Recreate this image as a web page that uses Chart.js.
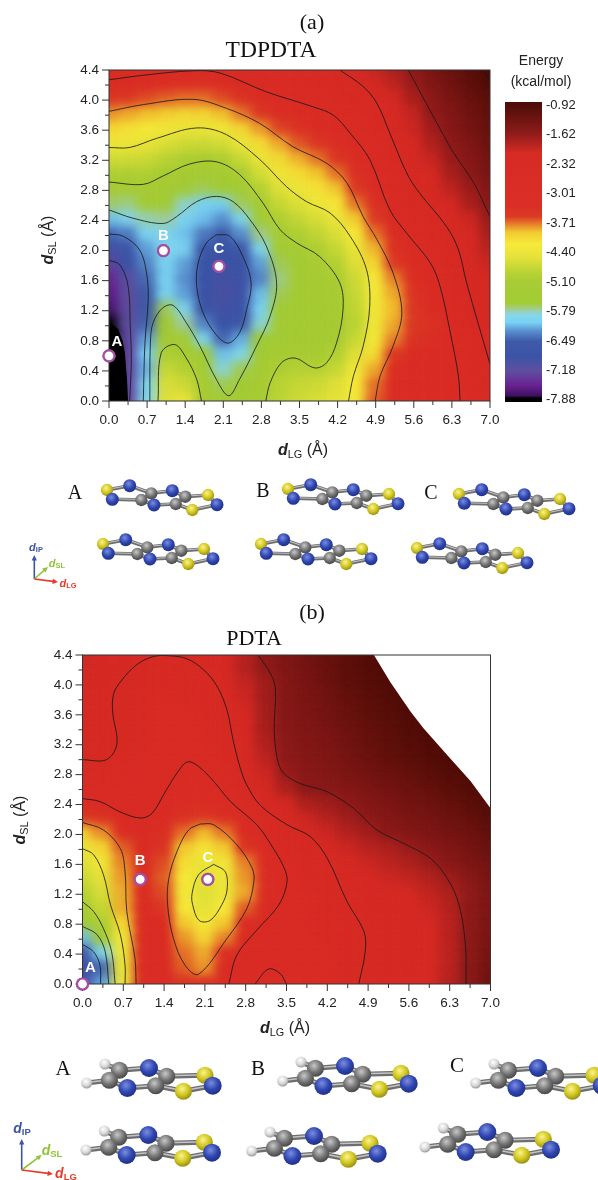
<!DOCTYPE html>
<html><head><meta charset="utf-8">
<script src="https://cdn.jsdelivr.net/npm/chart.js@4"></script>
<style>
html,body{margin:0;padding:0;background:#fff;width:598px;height:1180px;overflow:hidden}
canvas{position:absolute;display:block}
.t{position:absolute;transform:translate(-50%,-50%);white-space:nowrap;line-height:1}
.s{font-family:"Liberation Serif",serif;color:#111}
.h{font-family:"Liberation Sans",sans-serif;color:#222}
.r{transform:translate(-50%,-50%) rotate(-90deg)}
sub{font-size:.68em;vertical-align:-.25em;line-height:0}
.d{font-style:italic;font-weight:bold}
svg{position:absolute;left:0;top:0}
</style></head><body>
<canvas id="chartA" width="510" height="420" style="left:0;top:60px"></canvas>
<canvas id="chartB" width="510" height="420" style="left:0;top:645px"></canvas>
<canvas id="chartBar" width="103" height="320" style="left:495px;top:92px"></canvas>
<svg id="art" width="598" height="1180"></svg>
<div id="labels"></div>
<script>
const dLG=[0,0.35,0.7,1.05,1.4,1.75,2.1,2.45,2.8,3.15,3.5,3.85,4.2,4.55,4.9,5.25,5.6,5.95,6.3,6.65,7];
const dSL=[4.4,4.2,4.0,3.8,3.6,3.4,3.2,3.0,2.8,2.6,2.4,2.2,2.0,1.8,1.6,1.4,1.2,1.0,0.8,0.6,0.4,0.2,0];
const xMajorTicks=[0,0.7,1.4,2.1,2.8,3.5,4.2,4.9,5.6,6.3,7];
const yMajorTicks=[0,0.4,0.8,1.2,1.6,2.0,2.4,2.8,3.2,3.6,4.0,4.4];
const barTicks=[-0.92,-1.62,-2.32,-3.01,-3.71,-4.40,-5.10,-5.79,-6.49,-7.18,-7.88];

const energyA=[
[-2.85,-2.87,-2.92,-2.96,-3.0,-3.0,-2.98,-2.9,-2.82,-2.75,-2.68,-2.55,-2.34,-2.12,-1.95,-1.78,-1.58,-1.38,-1.22,-1.05,-0.85],
[-3.13,-3.17,-3.25,-3.32,-3.36,-3.36,-3.28,-3.08,-2.93,-2.85,-2.75,-2.65,-2.5,-2.35,-2.12,-1.92,-1.67,-1.47,-1.3,-1.12,-0.95],
[-3.46,-3.53,-3.6,-3.66,-3.7,-3.7,-3.6,-3.42,-3.22,-3.12,-3.03,-2.85,-2.68,-2.5,-2.35,-2.15,-1.78,-1.6,-1.4,-1.22,-1.06],
[-3.78,-3.85,-3.91,-4.0,-4.06,-4.05,-3.91,-3.72,-3.51,-3.33,-3.2,-3.1,-2.98,-2.7,-2.45,-2.2,-1.95,-1.62,-1.48,-1.3,-1.13],
[-4.07,-4.14,-4.21,-4.3,-4.38,-4.4,-4.3,-4.06,-3.82,-3.58,-3.42,-3.29,-3.17,-2.98,-2.6,-2.27,-2.0,-1.72,-1.53,-1.35,-1.18],
[-4.35,-4.37,-4.46,-4.57,-4.7,-4.72,-4.65,-4.4,-4.1,-3.85,-3.63,-3.5,-3.35,-3.05,-2.77,-2.32,-2.1,-1.82,-1.6,-1.45,-1.25],
[-4.66,-4.68,-4.71,-4.86,-5.0,-5.07,-5.0,-4.72,-4.4,-4.08,-3.87,-3.71,-3.48,-3.22,-3.05,-2.47,-2.2,-1.97,-1.67,-1.52,-1.33],
[-5.0,-5.01,-4.97,-5.14,-5.25,-5.3,-5.25,-5.05,-4.65,-4.35,-4.1,-3.93,-3.71,-3.38,-3.01,-2.7,-2.25,-2.05,-1.78,-1.58,-1.38],
[-5.3,-5.3,-5.22,-5.35,-5.5,-5.65,-5.6,-5.33,-4.91,-4.55,-4.37,-4.14,-3.93,-3.54,-3.2,-2.84,-2.38,-2.2,-1.9,-1.68,-1.47],
[-5.68,-5.72,-5.5,-5.55,-5.82,-6.05,-6.05,-5.66,-5.12,-4.75,-4.56,-4.35,-4.18,-3.71,-3.38,-2.87,-2.55,-2.33,-2.1,-1.78,-1.55],
[-6.1,-5.95,-5.79,-5.75,-6.0,-6.1,-6.25,-5.95,-5.5,-4.97,-4.77,-4.6,-4.4,-3.97,-3.55,-3.0,-2.7,-2.5,-2.2,-2.0,-1.65],
[-6.45,-6.35,-5.98,-5.98,-6.1,-6.35,-6.5,-6.25,-5.72,-5.2,-4.97,-4.8,-4.57,-4.2,-3.71,-3.25,-2.85,-2.67,-2.32,-2.1,-1.75],
[-6.92,-6.65,-6.2,-5.9,-6.0,-6.6,-6.75,-6.6,-5.95,-5.45,-5.2,-5.0,-4.75,-4.4,-3.88,-3.43,-3.01,-2.8,-2.5,-2.2,-1.88],
[-7.28,-6.87,-6.3,-6.0,-6.2,-6.8,-6.9,-6.85,-6.2,-5.65,-5.3,-5.05,-4.93,-4.55,-4.05,-3.55,-3.25,-3.01,-2.55,-2.2,-1.98],
[-7.5,-7.15,-6.42,-6.0,-6.25,-6.85,-6.95,-6.9,-6.3,-5.72,-5.38,-5.22,-5.05,-4.7,-4.2,-3.75,-3.35,-3.08,-2.75,-2.25,-2.05],
[-7.6,-7.2,-6.5,-6.0,-6.2,-6.85,-7.0,-6.9,-6.1,-5.65,-5.35,-5.25,-5.13,-4.75,-4.25,-3.85,-3.45,-3.2,-2.8,-2.28,-2.15],
[-7.7,-7.22,-6.5,-5.65,-5.95,-6.75,-6.95,-6.85,-6.0,-5.55,-5.35,-5.3,-5.15,-4.8,-4.3,-3.9,-3.5,-3.3,-2.95,-2.35,-2.1],
[-7.85,-7.2,-6.45,-5.5,-5.75,-6.3,-6.85,-6.55,-5.85,-5.5,-5.35,-5.3,-5.2,-4.85,-4.3,-3.85,-3.55,-3.4,-3.0,-2.5,-2.2],
[-7.9,-7.25,-6.2,-5.3,-5.45,-5.95,-6.45,-6.15,-5.6,-5.4,-5.3,-5.25,-5.1,-4.75,-4.25,-3.75,-3.45,-3.35,-3.0,-2.7,-2.35],
[-7.9,-7.3,-6.05,-5.0,-5.12,-5.6,-6.1,-5.9,-5.5,-5.1,-5.08,-5.15,-4.95,-4.55,-4.1,-3.5,-3.3,-3.25,-3.05,-2.75,-2.4],
[-7.9,-7.25,-6.15,-4.75,-4.9,-5.3,-5.85,-5.65,-5.2,-5.0,-4.9,-4.9,-4.75,-4.3,-3.85,-3.35,-3.2,-3.15,-3.05,-2.85,-2.45],
[-7.9,-7.3,-6.0,-4.6,-4.7,-5.15,-5.65,-5.5,-5.1,-4.85,-4.75,-4.7,-4.55,-4.2,-3.7,-3.3,-3.15,-3.1,-3.03,-2.85,-2.5],
[-7.9,-7.3,-5.9,-4.55,-4.45,-5.15,-5.6,-5.45,-5.12,-4.85,-4.7,-4.6,-4.5,-4.25,-3.65,-3.3,-3.15,-3.1,-3.02,-2.9,-2.55]];

const energyB=[
[-2.0,-2.05,-2.12,-2.25,-2.33,-2.3,-2.2,-2.1,-1.85,-1.55,-1.42,-1.3,-1.18,-1.08,-0.98,-0.9,-0.9,-0.9,-0.9,-0.9,-0.9],
[-2.08,-2.12,-2.2,-2.38,-2.5,-2.48,-2.33,-2.12,-1.85,-1.62,-1.45,-1.35,-1.22,-1.1,-1.0,-0.93,-0.9,-0.9,-0.9,-0.9,-0.9],
[-2.15,-2.2,-2.3,-2.5,-2.6,-2.58,-2.5,-2.25,-1.95,-1.72,-1.5,-1.38,-1.25,-1.13,-1.03,-0.97,-0.92,-0.9,-0.9,-0.9,-0.9],
[-2.18,-2.2,-2.4,-2.55,-2.68,-2.65,-2.55,-2.33,-2.0,-1.72,-1.5,-1.4,-1.3,-1.18,-1.08,-1.0,-0.92,-0.9,-0.9,-0.9,-0.9],
[-2.2,-2.22,-2.33,-2.6,-2.7,-2.7,-2.65,-2.37,-2.05,-1.75,-1.52,-1.42,-1.33,-1.22,-1.12,-1.03,-0.95,-0.9,-0.9,-0.9,-0.9],
[-2.25,-2.27,-2.38,-2.62,-2.72,-2.72,-2.65,-2.42,-2.1,-1.75,-1.55,-1.45,-1.38,-1.27,-1.17,-1.08,-1.0,-0.93,-0.9,-0.9,-0.9],
[-2.28,-2.3,-2.33,-2.6,-2.72,-2.75,-2.68,-2.5,-2.2,-1.82,-1.58,-1.48,-1.42,-1.3,-1.2,-1.12,-1.03,-0.96,-0.92,-0.9,-0.9],
[-2.32,-2.32,-2.55,-2.7,-2.78,-2.85,-2.8,-2.6,-2.28,-1.9,-1.6,-1.5,-1.45,-1.35,-1.25,-1.15,-1.08,-1.0,-0.93,-0.9,-0.9],
[-2.6,-2.62,-2.68,-2.75,-2.85,-3.0,-3.0,-2.82,-2.35,-2.0,-1.67,-1.55,-1.5,-1.4,-1.33,-1.25,-1.17,-1.08,-1.0,-0.93,-0.9],
[-2.9,-2.88,-2.85,-2.88,-3.0,-3.1,-3.12,-2.92,-2.4,-2.1,-1.8,-1.58,-1.55,-1.5,-1.42,-1.33,-1.25,-1.18,-1.08,-1.0,-0.92],
[-3.1,-3.05,-2.95,-2.95,-3.08,-3.25,-3.3,-3.1,-2.82,-2.25,-2.05,-1.8,-1.72,-1.62,-1.5,-1.42,-1.33,-1.27,-1.18,-1.08,-0.98],
[-3.55,-3.4,-3.05,-3.05,-3.2,-3.4,-3.55,-3.35,-3.1,-2.48,-2.2,-2.0,-1.85,-1.72,-1.6,-1.5,-1.42,-1.35,-1.27,-1.17,-1.05],
[-4.0,-3.78,-3.3,-3.1,-3.35,-3.7,-3.9,-3.72,-3.2,-2.85,-2.35,-2.15,-2.0,-1.85,-1.73,-1.58,-1.5,-1.43,-1.35,-1.27,-1.13],
[-4.4,-4.05,-3.65,-3.15,-3.45,-3.95,-4.15,-3.95,-3.45,-3.0,-2.5,-2.25,-2.1,-2.0,-1.87,-1.8,-1.68,-1.57,-1.45,-1.35,-1.22],
[-4.55,-4.3,-3.75,-3.2,-3.6,-4.1,-4.4,-4.3,-3.75,-3.15,-2.8,-2.4,-2.3,-2.15,-2.0,-1.9,-1.8,-1.68,-1.55,-1.42,-1.3],
[-4.7,-4.5,-3.8,-3.2,-3.65,-4.2,-4.5,-4.35,-3.8,-3.2,-3.0,-2.65,-2.4,-2.25,-2.1,-2.0,-1.93,-1.83,-1.7,-1.55,-1.37],
[-4.9,-4.6,-3.85,-3.2,-3.6,-4.25,-4.55,-4.4,-3.85,-3.25,-3.02,-2.8,-2.5,-2.33,-2.18,-2.1,-2.05,-1.93,-1.8,-1.62,-1.42],
[-5.25,-4.75,-3.85,-3.2,-3.5,-4.2,-4.5,-4.2,-3.65,-3.05,-2.95,-2.85,-2.6,-2.33,-2.2,-2.15,-2.1,-2.0,-1.85,-1.58,-1.42],
[-5.6,-5.0,-4.05,-3.2,-3.3,-3.95,-4.25,-3.95,-3.3,-3.0,-2.9,-2.8,-2.65,-2.45,-2.28,-2.2,-2.15,-2.05,-1.88,-1.6,-1.4],
[-6.1,-5.45,-4.3,-3.15,-3.3,-3.8,-4.05,-3.75,-3.15,-3.0,-2.9,-2.8,-2.65,-2.45,-2.3,-2.2,-2.15,-2.05,-1.88,-1.58,-1.38],
[-6.7,-5.95,-4.35,-3.2,-3.2,-3.7,-3.85,-3.35,-3.05,-2.98,-2.9,-2.8,-2.68,-2.48,-2.3,-2.22,-2.17,-2.07,-1.9,-1.58,-1.35],
[-6.9,-6.45,-4.4,-3.15,-3.15,-3.65,-3.8,-3.2,-3.0,-3.02,-2.95,-2.8,-2.7,-2.45,-2.3,-2.25,-2.2,-2.1,-1.9,-1.55,-1.3],
[-6.95,-6.2,-4.4,-3.1,-3.1,-3.45,-3.4,-3.05,-2.98,-3.05,-3.0,-2.85,-2.7,-2.42,-2.28,-2.25,-2.2,-2.08,-1.85,-1.55,-1.25]];

const contoursA=[
[[0,4.27],[.63,4.33],[1.55,4.39],[2.04,4.36],[2.89,4.11],[3.75,3.91],[4.12,3.80],[4.43,3.56],[4.79,3.21],[5.16,2.54],[5.47,2.23],[5.90,1.84],[6.08,1.53],[6.27,.91],[6.42,.33],[6.45,0]],
[[4.24,4.40],[4.67,4.18],[4.92,3.96],[5.16,3.56],[5.47,3.03],[5.71,2.76],[6.20,2.32],[6.42,2.01],[6.57,1.57],[7,.49]],
[[5.50,4.40],[5.96,3.78],[6.33,3.30],[6.70,2.90],[7,2.45]],
[[6.88,4.40],[7,4.25]],
[[0,3.85],[.63,3.94],[1.55,4.01],[2.16,3.89],[2.77,3.69],[3.38,3.38],[4.0,3.16],[4.37,2.90],[4.67,2.45],[4.92,2.15],[5.22,1.70],[5.38,1.17],[5.22,.73],[4.98,.33],[4.89,0]],
[[0,3.37],[.38,3.37],[.87,3.49],[1.61,3.63],[2.16,3.54],[2.77,3.21],[3.26,2.85],[3.63,2.65],[4.06,2.50],[4.43,2.19],[4.73,1.75],[4.79,1.26],[4.67,.73],[4.49,.33],[4.40,0]],
[[0,2.91],[.63,2.88],[.99,2.99],[1.48,3.15],[1.97,3.18],[2.40,3.01],[2.83,2.63],[3.14,2.28],[3.45,2.10],[3.87,1.92],[4.24,1.57],[4.30,1.22],[4.18,.77],[4.0,.51],[3.78,.44],[3.42,.57],[3.17,.51],[2.96,.24],[2.88,0]],
[[0,2.54],[.44,2.43],[.99,2.36],[1.24,2.45],[1.61,2.65],[1.97,2.72],[2.28,2.65],[2.59,2.41],[2.89,2.06],[3.08,1.57],[2.96,1.13],[2.71,.73],[2.40,.29],[2.20,.07],[1.97,.29],[1.67,.73],[1.42,1.04],[1.18,1.27],[.99,1.24],[.81,1.04],[.76,.77],[.75,0]],
[[.90,0],[.96,.64],[1.21,.75],[1.42,.57],[1.61,.29],[1.70,0]],
[[0,2.22],[.26,2.19],[.56,2.01],[.69,1.70],[.72,1.35],[.66,.77],[.63,0]],
[[0,1.87],[.20,1.81],[.35,1.53],[.39,1.0],[.41,.55],[.38,0]],
[[1.97,2.21],[2.22,2.19],[2.46,1.92],[2.61,1.57],[2.53,1.22],[2.40,.91],[2.19,.77],[1.97,.88],[1.73,1.17],[1.61,1.53],[1.64,1.84],[1.79,2.10],[1.97,2.21]]];

const contoursB=[
[[0,3.0],[.41,3.0],[.59,3.21],[.52,3.62],[.53,3.87],[.65,4.04],[.93,4.27],[1.22,4.38],[1.48,4.39],[1.79,4.35],[2.08,4.20],[2.31,3.98],[2.48,3.66],[2.59,3.24],[2.71,2.88],[2.82,2.66],[3.05,2.39],[3.51,2.13],[3.91,1.97],[4.20,1.68],[4.54,1.10],[4.83,.70],[4.85,.43],[4.74,0]],
[[3.02,4.39],[3.22,4.16],[3.31,3.95],[3.29,3.42],[3.34,3.02],[3.45,2.82],[3.74,2.68],[4.20,2.57],[4.65,2.35],[5.05,2.06],[5.51,1.88],[5.97,1.68],[6.26,1.41],[6.46,1.06],[6.57,.52],[6.58,0]],
[[0,2.48],[.30,2.44],[.65,2.30],[.99,2.22],[1.19,2.28],[1.42,2.57],[1.62,2.82],[1.80,2.97],[1.99,2.91],[2.25,2.71],[2.54,2.44],[2.99,2.13],[3.22,1.88],[3.45,1.57],[3.51,1.37],[3.37,1.06],[2.99,.72],[2.65,.39],[2.51,0]],
[[2.96,0],[3.19,.20],[3.39,.14],[3.50,0]],
[[2.02,2.14],[2.25,2.13],[2.65,1.86],[2.91,1.55],[2.94,1.37],[2.82,1.01],[2.48,.61],[1.99,.13],[1.76,.25],[1.56,.61],[1.46,1.06],[1.48,1.41],[1.62,1.77],[1.82,2.06],[2.02,2.14]],
[[2.25,1.60],[2.45,1.50],[2.48,1.26],[2.39,1.06],[2.19,.85],[2.0,.85],[1.89,1.06],[1.88,1.21],[1.99,1.46],[2.25,1.60]],
[[0,2.16],[.36,2.06],[.65,1.81],[.73,1.50],[.76,.97],[.90,.34],[.92,0]],
[[0,1.81],[.19,1.73],[.36,1.46],[.48,1.06],[.65,.66],[.73,.25],[.73,0]],
[[0,1.10],[.19,.97],[.36,.74],[.50,.43],[.56,0]],
[[0,.77],[.25,.66],[.39,.43],[.45,0]],
[[0,.53],[.19,.43],[.30,.25],[.31,0]]];

const offScaleA=[[0,1.04],[.1,1.0],[.17,.95],[.25,.8],[.29,.65],[.33,.3],[.35,0],[0,0]];
const noDataB=[[5.0,4.4],[5.28,4.04],[5.63,3.64],[5.85,3.42],[6.26,3.06],[6.66,2.71],[7,2.35],[7,4.4]];
const markerNames=['A','B','C'];
const markersA=[[0,0.6],[1.0,2.0],[2.02,1.79]];
const markersB=[[0,0],[0.99,1.4],[2.15,1.4]];

const colorStops=[[-7.95,'#000000'],[-7.84,'#000000'],[-7.78,'#3c1260'],[-7.55,'#6a2090'],[-7.2,'#5f4fa0'],[-6.85,'#3c54a6'],[-6.5,'#3f5aa9'],[-6.25,'#5a90cf'],[-6.05,'#78d2f6'],[-5.88,'#85d8ea'],[-5.75,'#a0cc9a'],[-5.6,'#a3cc35'],[-5.1,'#a8cc35'],[-4.9,'#b5d235'],[-4.5,'#e6e23a'],[-4.2,'#f6ea3a'],[-3.92,'#f2c830'],[-3.72,'#e67a2a'],[-3.55,'#db3a26'],[-3.3,'#db2e26'],[-2.05,'#d62b25'],[-1.6,'#8f1c1b'],[-1.0,'#560f0a'],[-0.85,'#4a0c08']];

function hexRgb(h){return [1,3,5].map(i=>parseInt(h.substr(i,2),16));}
function colorOf(v){
  if(v<=colorStops[0][0])return colorStops[0][1];
  for(let i=1;i<colorStops.length;i++){
    if(v<=colorStops[i][0]){
      const a=colorStops[i-1],b=colorStops[i],t=(v-a[0])/(b[0]-a[0]);
      const p=hexRgb(a[1]),q=hexRgb(b[1]);
      return 'rgb('+p.map((c,k)=>Math.round(c+(q[k]-c)*t)).join(',')+')';
    }
  }
  return colorStops[colorStops.length-1][1];
}
function cellImage(color,w,h){
  const c=document.createElement('canvas');c.width=w;c.height=h;
  const g=c.getContext('2d');g.fillStyle=color;g.fillRect(0,0,w,h);return c;
}
const pts=a=>a.map(p=>({x:p[0],y:p[1]}));
const FONT='"Liberation Sans",Arial,sans-serif';

const panelPlugin={
  id:'panelPlugin',
  beforeDatasetDraw(chart,args){
    const ds=chart.data.datasets[args.index];
    if(ds.blurPx){chart.ctx.save();chart.ctx.filter='blur('+ds.blurPx+'px)';}
  },
  afterDatasetDraw(chart,args){
    const ds=chart.data.datasets[args.index];
    if(ds.blurPx){chart.ctx.restore();}
  },
  afterDraw(chart){
    const c=chart.ctx,a=chart.chartArea,X=chart.scales.x,Y=chart.scales.y;
    c.save();c.strokeStyle='#333';c.lineWidth=1;
    c.strokeRect(a.left,a.top,a.right-a.left,a.bottom-a.top);
    X.ticks.forEach(t=>{const p=X.getPixelForValue(t.value),l=xMajorTicks.includes(t.value)?7:4;
      c.beginPath();c.moveTo(p,a.bottom);c.lineTo(p,a.bottom+l);c.stroke();});
    Y.ticks.forEach(t=>{const p=Y.getPixelForValue(t.value),l=yMajorTicks.includes(t.value)?7:4;
      c.beginPath();c.moveTo(a.left,p);c.lineTo(a.left-l,p);c.stroke();});
    c.restore();
    chart.getDatasetMeta(chart.data.datasets.length-1).controller.draw();
    const o=chart.options.plugins.panelPlugin;
    c.save();
    c.font='bold 15px '+FONT;c.fillStyle='#fff';c.textAlign='center';c.textBaseline='middle';
    o.markers.forEach((m,i)=>{
      c.fillText(markerNames[i],X.getPixelForValue(m[0])+o.labelDx[i],Y.getPixelForValue(m[1])+o.labelDy[i]);
    });
    c.restore();
  }
};

function makePanel(id,energy,contours,mask,maskColor,markers,o){
  const cw=o.plotW/(dLG.length-1),ch=o.plotH/(dSL.length-1);
  const cells=[],imgs=[];
  energy.forEach((row,j)=>row.forEach((v,i)=>{
    cells.push({x:dLG[i],y:dSL[j]});
    imgs.push(cellImage(colorOf(v),Math.ceil(cw)+1,Math.ceil(ch)+1));
  }));
  const rCells=[...cells].reverse(),rImgs=[...imgs].reverse();
  const cellDs=(blur,order,rev)=>({data:rev?rCells:cells,showLine:false,pointStyle:rev?rImgs:imgs,pointRadius:5,pointBorderWidth:0,clip:0,blurPx:blur,order});
  const ds=[cellDs(0,100,false),cellDs(6,99,true),cellDs(6,98,false),cellDs(6,97,true),cellDs(6,96,false)];
  ds.push({data:pts(mask),showLine:true,fill:'shape',backgroundColor:maskColor,borderColor:maskColor,borderWidth:0,pointRadius:0,tension:0,clip:0,order:50});
  contours.forEach(l=>ds.push({data:pts(l),showLine:true,fill:false,borderColor:'rgba(25,25,25,0.82)',borderWidth:1,pointRadius:0,tension:0.35,clip:0,order:10}));
  ds.push({data:pts(markers),showLine:false,pointRadius:5.5,pointBackgroundColor:'#fff',pointBorderColor:'#a64ea6',pointBorderWidth:2.2,clip:false,order:1});
  const tickStyle={color:'#222',font:{family:FONT,size:13.5},autoSkip:false,maxRotation:0,padding:10};
  new Chart(document.getElementById(id),{
    type:'scatter',
    data:{datasets:ds},
    plugins:[panelPlugin],
    options:{
      responsive:false,animation:false,devicePixelRatio:1,events:[],
      layout:{padding:{left:0,top:10,right:o.padRight,bottom:0}},
      plugins:{legend:{display:false},tooltip:{enabled:false},
        panelPlugin:{markers,labelDx:o.labelDx,labelDy:o.labelDy}},
      scales:{
        x:{type:'linear',min:0,max:7,grid:{display:false,drawTicks:false},border:{display:false},
          afterBuildTicks:s=>{s.ticks=dLG.map(v=>({value:v}));},
          afterFit:s=>{s.height=o.xH;s.paddingLeft=0;s.paddingRight=0;},
          ticks:{...tickStyle,padding:11,callback:v=>xMajorTicks.includes(v)?v.toFixed(1):''}},
        y:{type:'linear',min:0,max:4.4,grid:{display:false,drawTicks:false},border:{display:false},
          afterBuildTicks:s=>{s.ticks=dSL.map(v=>({value:v}));},
          afterFit:s=>{s.width=o.yW;s.paddingTop=0;s.paddingBottom=0;},
          ticks:{...tickStyle,callback:v=>yMajorTicks.includes(v)?v.toFixed(1):''}}
      }
    }
  });
}
makePanel('chartA',energyA,contoursA,offScaleA,'#000',markersA,{plotW:381,plotH:331,padRight:20,xH:79,yW:109,labelDx:[8,0,0],labelDy:[-14,-15,-17]});
makePanel('chartB',energyB,contoursB,noDataB,'#fff',markersB,{plotW:408,plotH:329,padRight:19.5,xH:81,yW:82.5,labelDx:[8,0,0],labelDy:[-16,-18,-21]});

new Chart(document.getElementById('chartBar'),{
  type:'bar',
  data:{labels:['Energy'],datasets:[{data:[[-7.93,-0.85]],borderWidth:0,barPercentage:1,categoryPercentage:1,
    backgroundColor(ctx){
      const a=ctx.chart.chartArea;if(!a)return '#d62b25';
      const Y=ctx.chart.scales.y,g=ctx.chart.ctx.createLinearGradient(0,a.bottom,0,a.top);
      colorStops.forEach(s=>{
        const t=(Y.getPixelForValue(s[0])-a.bottom)/(a.top-a.bottom);
        g.addColorStop(Math.max(0,Math.min(1,t)),s[1]);
      });
      return g;
    }}]},
  options:{responsive:false,animation:false,devicePixelRatio:1,events:[],
    layout:{padding:{left:10,top:10,right:0,bottom:10}},
    plugins:{legend:{display:false},tooltip:{enabled:false}},
    scales:{
      x:{display:false},
      y:{position:'right',min:-7.93,max:-0.85,grid:{display:false,drawTicks:false},border:{display:false},
        afterBuildTicks:s=>{s.ticks=barTicks.map(v=>({value:v}));},
        afterFit:s=>{s.width=56;s.paddingTop=0;s.paddingBottom=0;},
        ticks:{color:'#222',font:{family:FONT,size:13},padding:4,autoSkip:false,callback:v=>v.toFixed(2)}}
    }
  }
});

/* page text */
const labelBox=document.getElementById('labels');
function txt(html,x,y,cls,size,extra){
  const d=document.createElement('div');d.className='t '+cls;d.innerHTML=html;
  d.style.left=x+'px';d.style.top=y+'px';d.style.fontSize=size+'px';
  if(extra)d.style.cssText+=extra;labelBox.appendChild(d);
}
txt('(a)',312,22,'s',22);
txt('TDPDTA',271,50,'s',23.5);
txt('(b)',312,612,'s',22);
txt('PDTA',254,638,'s',22);
txt('Energy',541,60,'h',14);
txt('(kcal/mol)',541,81,'h',14);
const dl=t=>'<span class="d">d</span><sub>'+t+'</sub> (Å)';
txt(dl('LG'),303,450,'h',16);
txt(dl('SL'),48,240,'h r',16);
txt(dl('LG'),285,1028,'h',16);
txt(dl('SL'),20,820,'h r',16);
[['A',75,492],['B',263,490],['C',431,492]].forEach(a=>txt(a[0],a[1],a[2],'s',20));
[['A',63,1068],['B',258,1068],['C',457,1065]].forEach(a=>txt(a[0],a[1],a[2],'s',21));
function triadLabel(t,x,y,col,size){txt('<span style="font-style:italic;font-weight:bold">d</span><sub style="font-weight:bold">'+t+'</sub>',x,y,'h',size,'color:'+col+';');}
triadLabel('IP',36,547,'#3c54a6',11);triadLabel('SL',57,563,'#8fc43a',11);triadLabel('LG',68,583,'#e8392a',11);
triadLabel('IP',22,1128,'#3c54a6',14);triadLabel('SL',52,1150,'#8fc43a',14);triadLabel('LG',66,1173,'#e8392a',14);

/* molecule illustrations */
const NS='http://www.w3.org/2000/svg',art=document.getElementById('art');
function el(n,a,p){const e=document.createElementNS(NS,n);for(const k in a)e.setAttribute(k,a[k]);(p||art).appendChild(e);return e;}
const defs=el('defs',{});
const shades={N:['#7a8de0','#2f46b0','#1c2c80'],S:['#fbf48a','#cfc520','#8d8610'],C:['#c8c8c8','#737373','#3f3f3f'],H:['#ffffff','#d8d8d8','#8f8f8f']};
for(const k in shades){const g=el('radialGradient',{id:'g'+k,cx:'.42',cy:'.35',r:'.7'},defs);
  shades[k].forEach((c,i)=>el('stop',{offset:[0,.55,1][i],'stop-color':c},g));}
const molT=[['S',0,0],['N',22.7,-4.3],['C',44.3,3.3],['N',65.3,.7],['C',78.3,6.7],['S',101,5],['N',5.3,9.3],['C',34.3,10],['N',47,15],['C',68.7,14],['S',85.3,20],['N',110,14.7]];
const bondT=[[0,1],[1,2],[2,3],[3,4],[4,5],[5,11],[11,10],[10,9],[9,8],[8,7],[7,6],[6,0],[7,2],[9,4]];
const molP=[['H',0,0],['H',18.3,-19],['C',22.7,-2.7],['C',32.7,-12.7],['N',40.7,5],['N',62.3,-15],['C',69,2.7],['C',80,-6.7],['S',96.7,8.3],['S',118.3,-7.7],['N',126,2.7]];
const bondP=[[0,2],[1,3],[2,3],[2,4],[4,6],[6,8],[8,10],[10,9],[9,7],[7,5],[5,3],[6,7]];
function molecule(mol,bonds,ox,oy,r){
  const sc={N:1,S:.95,C:.95,H:.62};
  bonds.forEach(b=>{const p=mol[b[0]],q=mol[b[1]];
    el('line',{x1:ox+p[1],y1:oy+p[2],x2:ox+q[1],y2:oy+q[2],stroke:'#6e6e6e','stroke-width':r*.55});
    el('line',{x1:ox+p[1],y1:oy+p[2]-.5,x2:ox+q[1],y2:oy+q[2]-.5,stroke:'#c4c4c4','stroke-width':r*.16});});
  [...mol].sort((a,b)=>a[2]-b[2]).forEach(m=>el('circle',{cx:ox+m[1],cy:oy+m[2],r:r*sc[m[0]],fill:'url(#g'+m[0]+')'}));
}
[[107,490],[103,544],[288,489],[261,544],[459,494],[417,548]].forEach(p=>molecule(molT,bondT,p[0],p[1],6.5));
[[86.7,1083],[86,1150],[282.7,1081],[251.7,1151],[475.7,1083],[425,1147]].forEach(p=>molecule(molP,bondP,p[0],p[1],9));
function arrow(x1,y1,x2,y2,col){
  const a=Math.atan2(y2-y1,x2-x1),s=6;
  el('line',{x1,y1,x2:x2-Math.cos(a)*s*.8,y2:y2-Math.sin(a)*s*.8,stroke:col,'stroke-width':1.6});
  el('polygon',{points:[[x2,y2],[x2-s*Math.cos(a-.45),y2-s*Math.sin(a-.45)],[x2-s*Math.cos(a+.45),y2-s*Math.sin(a+.45)]].map(p=>p.join(',')).join(' '),fill:col});
}
arrow(34.3,579,34.3,555,'#3c54a6');arrow(34.3,579,48,567,'#8fc43a');arrow(34.3,579,58,582,'#e8392a');
arrow(21.7,1170,21.7,1139,'#3c54a6');arrow(21.7,1170,41.7,1155,'#8fc43a');arrow(21.7,1170,53,1174,'#e8392a');
</script>
</body></html>
